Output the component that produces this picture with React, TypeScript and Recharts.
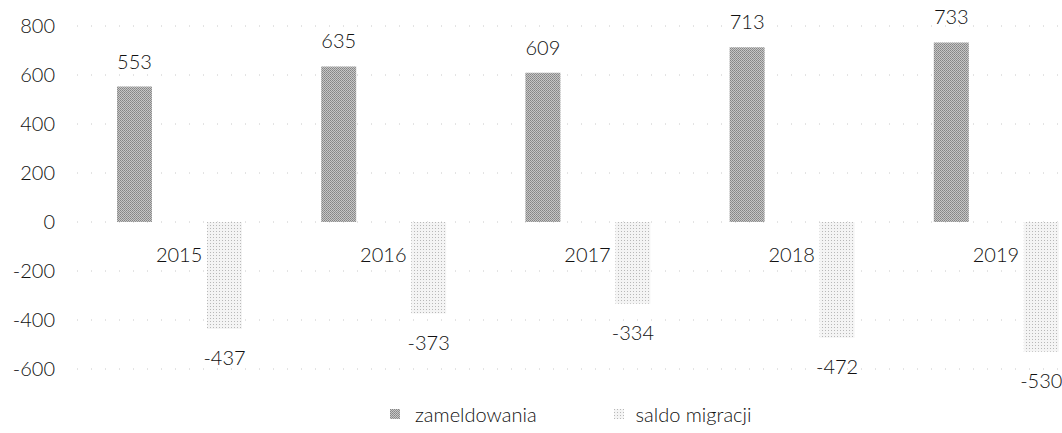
import React from 'react';
import { ComposedChart, Bar, Line, XAxis, YAxis, CartesianGrid, Legend, LabelList } from 'recharts';

const years = ['2015', '2016', '2017', '2018', '2019'];
const zameldowania = [553, 635, 609, 713, 733];
const saldoMigracji = [-437, -373, -334, -472, -530];
const yTicks = [-600, -400, -200, 0, 200, 400, 600, 800];
const seriesNames = ['zameldowania', 'saldo migracji'];

const data = years.map((year, i) => ({
  year,
  zam: zameldowania[i],
  saldo: saldoMigracji[i],
  axisBase: 0,
}));

const FONT = 'Lato, "Open Sans", sans-serif';
const TEXT = '#111111';
const WEIGHT = 300;

const LegendContent = () => (
  <div style={{ position: 'relative', height: 30, fontFamily: FONT, fontSize: 20, fontWeight: WEIGHT, color: TEXT }}>
    <div style={{ position: 'absolute', left: 390, top: 0, display: 'flex', alignItems: 'center', height: 30 }}>
      <svg width={10} height={10} style={{ marginRight: 15 }}>
        <rect width={10} height={10} fill="url(#zamPat)" />
      </svg>
      <span>{seriesNames[0]}</span>
      <svg width={10} height={10} style={{ marginLeft: 77, marginRight: 12 }}>
        <rect width={10} height={10} fill="url(#saldoPat)" />
      </svg>
      <span>{seriesNames[1]}</span>
    </div>
  </div>
);

const labelStyle = { fill: TEXT, fontSize: 20, fontFamily: FONT, fontWeight: WEIGHT };

export default function App() {
  return (
    <div style={{ position: 'absolute', left: 0, top: 0, width: 1062, height: 433, overflow: 'hidden', background: '#fff' }}>
      <ComposedChart
        width={1098}
        height={433}
        data={data}
        margin={{ top: 26, right: 0, bottom: 34, left: 0 }}
        barGap={55}
        barSize={35}
      >
        <defs>
          <pattern id="zamPat" width="2" height="2" patternUnits="userSpaceOnUse">
            <rect width="2" height="2" fill="#c6c6c6" />
            <rect x="0" y="0" width="1" height="1" fill="#858585" />
            <rect x="1" y="1" width="1" height="1" fill="#919191" />
          </pattern>
          <pattern id="saldoPat" width="3" height="3" patternUnits="userSpaceOnUse">
            <rect width="3" height="3" fill="#f4f4f4" />
            <rect x="0" y="0" width="1" height="1" fill="#b8b8b8" />
          </pattern>
        </defs>
        <CartesianGrid vertical={false} stroke="#c8c8c8" strokeDasharray="1 13" />
        <XAxis dataKey="year" hide />
        <YAxis
          width={77}
          domain={[-600, 800]}
          ticks={yTicks}
          axisLine={false}
          tickLine={false}
          tickSize={0}
          tickMargin={22}
          tick={labelStyle}
        />
        <Legend height={30} verticalAlign="bottom" content={<LegendContent />} wrapperStyle={{ left: 0, width: 1062, bottom: 4 }} />
        <Bar dataKey="zam" name={seriesNames[0]} fill="url(#zamPat)" isAnimationActive={false}>
          <LabelList dataKey="zam" position="top" offset={18} style={labelStyle} />
        </Bar>
        <Bar dataKey="saldo" name={seriesNames[1]} fill="url(#saldoPat)" isAnimationActive={false}>
          <LabelList dataKey="saldo" position="top" offset={22} style={labelStyle} />
        </Bar>
        <Line
          dataKey="axisBase"
          stroke="none"
          dot={false}
          activeDot={false}
          legendType="none"
          isAnimationActive={false}
        >
          <LabelList dataKey="year" position="bottom" offset={26} style={labelStyle} />
        </Line>
      </ComposedChart>
    </div>
  );
}
